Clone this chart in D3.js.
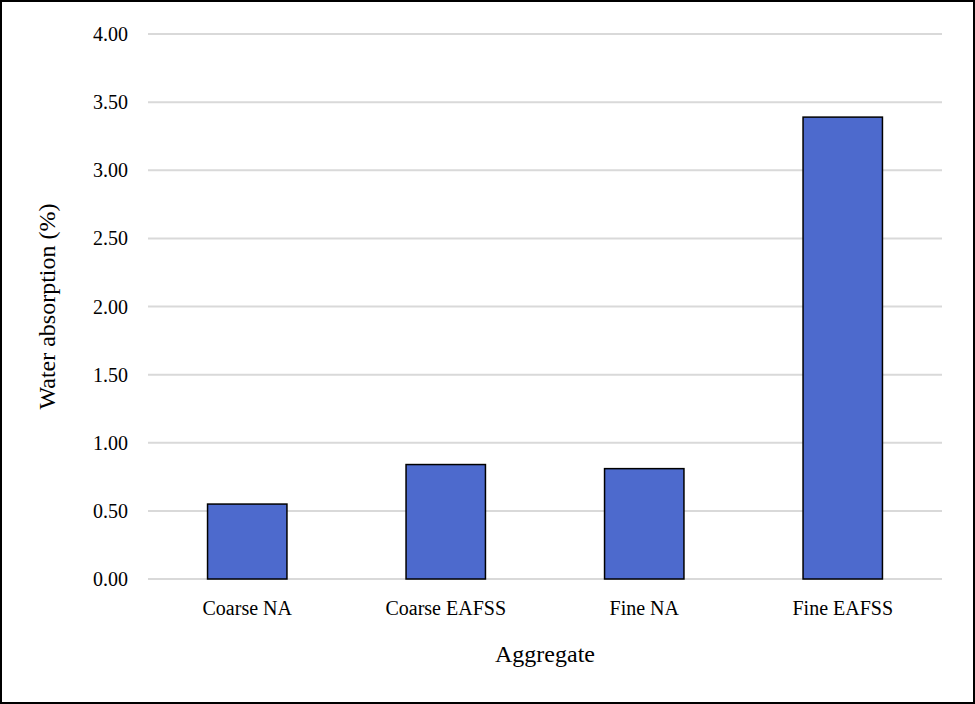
<!DOCTYPE html>
<html><head><meta charset="utf-8">
<script src="https://cdn.jsdelivr.net/npm/d3@7"></script>
<style>body{margin:0;background:#fff}svg{display:block}</style>
</head><body><svg id="c" width="975" height="704"></svg>
<script>
const categories=["Coarse NA","Coarse EAFSS","Fine NA","Fine EAFSS"];
const values=[0.55,0.84,0.81,3.39];
const yTicks=[0,0.5,1,1.5,2,2.5,3,3.5,4];
const svg=d3.select("#c");
const font="'Liberation Serif','Times New Roman',serif";
svg.append("rect").attr("x",1).attr("y",1).attr("width",973).attr("height",702).attr("fill","#fff").attr("stroke","#000").attr("stroke-width",2);
const L=148,R=942,T=34,B=579;
const x=d3.scaleBand().domain(categories).range([L,R]).paddingInner(0.6).paddingOuter(0.3);
const y=d3.scaleLinear().domain([0,4]).range([B,T]);
svg.append("g").selectAll("line").data(yTicks).join("line")
 .attr("x1",L).attr("x2",R).attr("y1",d=>y(d)).attr("y2",d=>y(d)).attr("stroke","#d9d9d9").attr("stroke-width",2);
svg.append("g").selectAll("text").data(yTicks).join("text")
 .attr("x",L-20).attr("y",d=>y(d)).attr("dy","0.35em").attr("text-anchor","end")
 .style("font-family",font).style("font-size","20px").text(d=>d.toFixed(2));
svg.append("g").selectAll("rect").data(values).join("rect")
 .attr("x",(d,i)=>x(categories[i])).attr("width",x.bandwidth())
 .attr("y",d=>y(d)).attr("height",d=>B-y(d))
 .attr("fill","#4d6acd").attr("stroke","#000").attr("stroke-width",1.5);
svg.append("g").selectAll("text").data(categories).join("text")
 .attr("x",d=>x(d)+x.bandwidth()/2).attr("y",B+36).attr("text-anchor","middle")
 .style("font-family",font).style("font-size","20px").text(d=>d);
svg.append("text").attr("x",(L+R)/2).attr("y",662).attr("text-anchor","middle")
 .style("font-family",font).style("font-size","24px").text("Aggregate");
svg.append("text").attr("transform",`translate(55,${(T+B)/2}) rotate(-90)`).attr("text-anchor","middle")
 .style("font-family",font).style("font-size","24px").text("Water absorption (%)");
</script></body></html>
